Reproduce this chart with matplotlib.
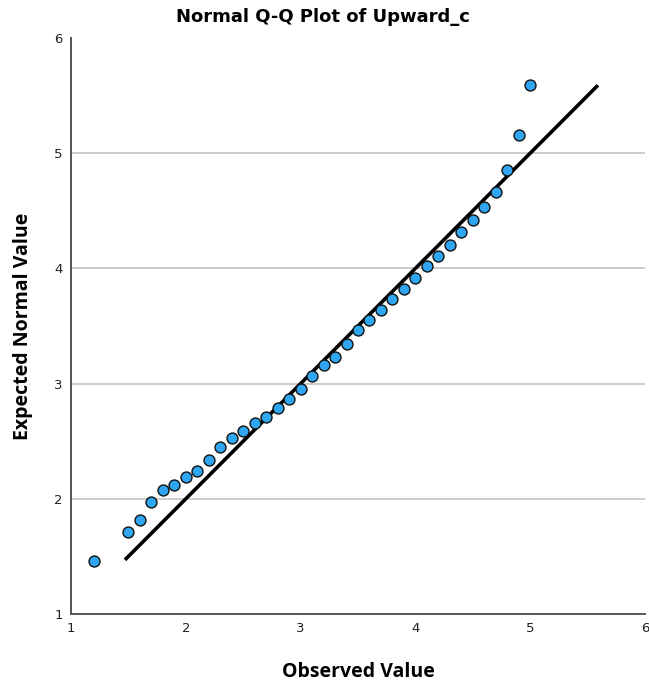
import matplotlib
matplotlib.use("Agg")
import matplotlib.pyplot as plt

observed = [1.2, 1.5, 1.6, 1.7, 1.8, 1.9, 2.0, 2.1, 2.2, 2.3, 2.4, 2.5, 2.6, 2.7, 2.8, 2.9,
            3.0, 3.1, 3.2, 3.3, 3.4, 3.5, 3.6, 3.7, 3.8, 3.9, 4.0, 4.1, 4.2, 4.3, 4.4, 4.5,
            4.6, 4.7, 4.8, 4.9, 5.0]
expected = [1.458, 1.713, 1.817, 1.968, 2.078, 2.124, 2.189, 2.241, 2.339, 2.452, 2.530,
            2.591, 2.655, 2.710, 2.785, 2.867, 2.954, 3.070, 3.159, 3.235, 3.345, 3.467,
            3.548, 3.635, 3.733, 3.820, 3.913, 4.017, 4.107, 4.200, 4.316, 4.423, 4.537,
            4.661, 4.858, 5.154, 5.589]
line_x = [1.47, 5.59]
line_y = [1.47, 5.59]
ticks = [1, 2, 3, 4, 5, 6]
grid_y = [2, 3, 4, 5]

fig = plt.figure(figsize=(6.49, 6.88), dpi=100)
ax = fig.add_axes([71/649, 1-614/688, (645-71)/649, (614-38)/688])

for g in grid_y:
    ax.axhline(g, color="#c4c4c4", lw=1.2, zorder=0)

ax.plot(line_x, line_y, color="black", lw=2.6, solid_capstyle="butt", zorder=2)
ax.scatter(observed, expected, s=62, facecolor="#2ea6f0", edgecolor="#111111",
           linewidth=1.0, zorder=3)

ax.set_xlim(1, 6)
ax.set_ylim(1, 6)
ax.set_xticks(ticks)
ax.set_yticks(ticks)
ax.tick_params(length=0, labelsize=9.5, colors="#222222", pad=6)
for sp in ["top", "right"]:
    ax.spines[sp].set_visible(False)
for sp in ["left", "bottom"]:
    ax.spines[sp].set_color("#555555")
    ax.spines[sp].set_linewidth(1.4)

ax.set_xlabel("Observed Value", fontsize=14, fontweight="bold", family="Open Sans", labelpad=19)
ax.set_ylabel("Expected Normal Value", fontsize=14, fontweight="bold", family="Open Sans", labelpad=15)
fig.text(323/649, 1-17/688, "Normal Q-Q Plot of Upward_c", ha="center", va="center",
         fontsize=13, fontweight="bold", family="DejaVu Sans")

fig.savefig("out.png", dpi=100)
